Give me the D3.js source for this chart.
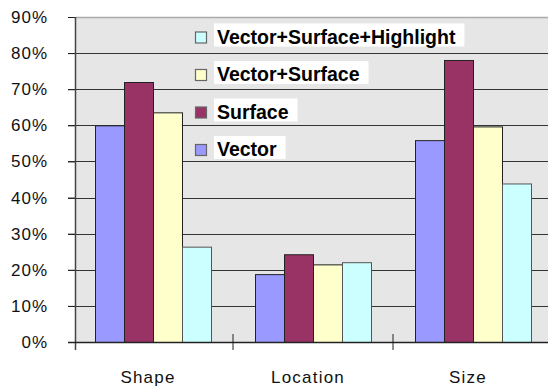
<!DOCTYPE html>
<html><head><meta charset="utf-8">
<script src="https://cdn.jsdelivr.net/npm/d3@7"></script>
<style>body{margin:0;background:#fff}svg{display:block}</style>
</head><body>
<svg id="c" width="549" height="389"></svg>
<script>
const categories = ["Shape", "Location", "Size"];
const series = ["Vector", "Surface", "Vector+Surface", "Vector+Surface+Highlight"];
const vector = [0.60, 0.188, 0.559];
const surface = [0.72, 0.243, 0.781];
const vectorSurface = [0.636, 0.215, 0.597];
const vectorSurfaceHighlight = [0.264, 0.221, 0.439];
const yTicks = [0, 0.1, 0.2, 0.3, 0.4, 0.5, 0.6, 0.7, 0.8, 0.9];
const colors = ["#9999ff", "#993366", "#ffffcc", "#ccffff"];
const values = [vector, surface, vectorSurface, vectorSurfaceHighlight];

const svg = d3.select("#c");
const plotL = 76, plotR = 548, plotT = 17, plotB = 342;
const y = d3.scaleLinear().domain([0, 0.9]).range([plotB, plotT]);
const x0 = d3.scaleBand().domain(categories).range([73, 553]).padding(0);
const x1 = d3.scaleBand().domain(series).range([22, 138]).padding(0);

svg.append("rect").attr("x", plotL).attr("y", plotT).attr("width", plotR - plotL).attr("height", plotB - plotT)
  .attr("fill", "#e6e6e6");
svg.append("line").attr("x1", plotL).attr("x2", plotR).attr("y1", plotT + 0.5).attr("y2", plotT + 0.5)
  .attr("stroke", "#aaa").attr("stroke-width", 1.5);

// gridlines
svg.append("g").selectAll("line").data(yTicks.filter(d => d > 0 && d < 0.9)).join("line")
  .attr("x1", 68).attr("x2", plotR)
  .attr("y1", d => Math.round(y(d)) + 0.5).attr("y2", d => Math.round(y(d)) + 0.5)
  .attr("stroke", "#333").attr("stroke-width", 1.2);

// bars
const data = [];
categories.forEach((c, i) => series.forEach((s, j) => data.push({c, s, j, v: values[j][i]})));
svg.append("g").selectAll("rect").data(data).join("rect")
  .attr("x", d => x0(d.c) + x1(d.s) + 0.5)
  .attr("y", d => y(d.v) + 0.5)
  .attr("width", x1.bandwidth())
  .attr("height", d => plotB - y(d.v))
  .attr("fill", d => colors[d.j])
  .attr("stroke", d => d.j === 3 ? "#555" : "#222").attr("stroke-width", 1);

// y axis
const yAxis = d3.axisLeft(y).tickValues(yTicks).tickFormat(d3.format(".0%")).tickSize(8).tickPadding(20);
const ya = svg.append("g").attr("transform", `translate(${plotL},0)`).call(yAxis);
ya.select(".domain").remove();
ya.selectAll(".tick line").attr("stroke", "#222").attr("x2", -8);
ya.selectAll("text").attr("font-family", "Liberation Sans, Arial, sans-serif").attr("font-size", 17)
  .attr("letter-spacing", 1).attr("fill", "#111");
svg.append("line").attr("x1", plotL - 0.5).attr("x2", plotL - 0.5).attr("y1", plotT).attr("y2", 350)
  .attr("stroke", "#444").attr("stroke-width", 1.5);

// x axis
svg.append("line").attr("x1", 68).attr("x2", plotR).attr("y1", plotB + 0.5).attr("y2", plotB + 0.5)
  .attr("stroke", "#222").attr("stroke-width", 1.5);
const boundaries = categories.slice(1).map(c => x0(c));
svg.append("g").selectAll("line").data(boundaries).join("line")
  .attr("x1", d => d).attr("x2", d => d).attr("y1", 334).attr("y2", 350)
  .attr("stroke", "#222");
svg.append("g").selectAll("text").data(categories).join("text")
  .attr("x", d => x0(d) + x0.bandwidth() / 2 - 5).attr("y", 383)
  .attr("text-anchor", "middle")
  .attr("font-family", "Liberation Sans, Arial, sans-serif").attr("font-size", 17)
  .attr("letter-spacing", 1.2).attr("fill", "#111").text(d => d);

// legend
const legendOrder = [3, 2, 1, 0];
const lg = svg.append("g");
legendOrder.forEach((j, k) => {
  const by = 43.5 + k * 37.5;
  const g = lg.append("g");
  const t = g.append("text").attr("x", 217).attr("y", by)
    .attr("font-family", "Liberation Sans, Arial, sans-serif").attr("font-size", 19.5)
    .attr("font-weight", "bold").attr("fill", "#000").text(series[j]);
  const w = t.node().getComputedTextLength();
  g.insert("rect", "text").attr("x", 214).attr("y", by - 20).attr("width", w + 12).attr("height", 23)
    .attr("fill", "#fff");
  g.append("rect").attr("x", 195.5).attr("y", by - 11.5).attr("width", 11).attr("height", 11)
    .attr("fill", colors[j]).attr("stroke", "#666").attr("stroke-width", 1.2);
});
</script>
</body></html>
